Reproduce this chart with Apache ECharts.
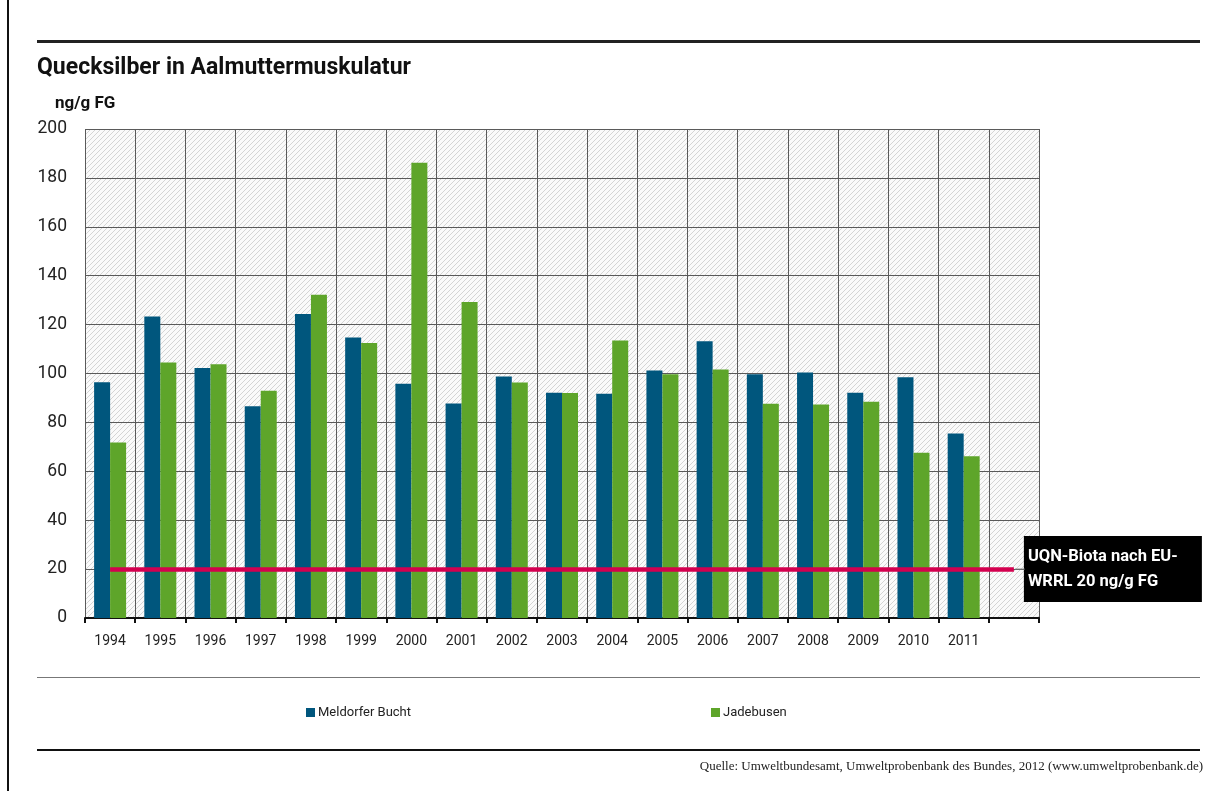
<!DOCTYPE html>
<html>
<head>
<meta charset="utf-8">
<script src="https://cdn.jsdelivr.net/npm/echarts@6/dist/echarts.min.js"></script>
<style>
  html, body { margin: 0; padding: 0; background: #fff; }
  #chart { width: 1213px; height: 791px; }
</style>
</head>
<body>
<div id="chart"></div>
<script>
// Sampling years; the last, empty slot leaves room for the limit label
const years = ['1994', '1995', '1996', '1997', '1998', '1999', '2000', '2001', '2002',
  '2003', '2004', '2005', '2006', '2007', '2008', '2009', '2010', '2011', ''];

// Mercury in eelpout muscle tissue, ng/g fresh weight
const meldorferBucht = [96.4, 123.3, 102.3, 86.6, 124.3, 114.7, 95.8, 87.7, 98.8,
  92.1, 91.7, 101.2, 113.2, 99.7, 100.4, 92.1, 98.5, 75.5, null];
const jadebusen = [71.8, 104.5, 103.8, 92.9, 132.2, 112.5, 186.2, 129.2, 96.3,
  92.0, 113.5, 99.7, 101.6, 87.6, 87.3, 88.4, 67.6, 66.2, null];

// Value axis
const yMin = 0, yMax = 200, yStep = 20;

// Environmental quality standard (biota) under the EU Water Framework Directive
const limitValue = 20;
const limitLabel = ['UQN-Biota nach EU-', 'WRRL 20 ng/g FG'];

const seriesNames = ['Meldorfer Bucht', 'Jadebusen'];
const colors = ['#00567d', '#5ea52a'];
const FONT = 'Roboto, "Noto Sans", sans-serif';

// Diagonal hatch tile for the plot background
function hatchTile() {
  const s = 5;
  const c = document.createElement('canvas');
  c.width = s; c.height = s;
  const g = c.getContext('2d');
  g.fillStyle = '#fafafa';
  g.fillRect(0, 0, s, s);
  g.strokeStyle = '#d4d4d4';
  g.lineWidth = 1;
  g.beginPath();
  g.moveTo(0, s); g.lineTo(s, 0);
  g.moveTo(-1, 1); g.lineTo(1, -1);
  g.moveTo(s - 1, s + 1); g.lineTo(s + 1, s - 1);
  g.stroke();
  return c;
}

const chart = echarts.init(document.getElementById('chart'), null, { renderer: 'canvas' });

const legendBase = {
  top: 701, icon: 'rect', itemWidth: 9, itemHeight: 9, itemGap: 4,
  textStyle: { fontFamily: FONT, fontSize: 13, color: '#222', padding: [0, 0, 0, -2] }
};

const option = {
  backgroundColor: '#fff',
  animation: false,
  textStyle: { fontFamily: FONT },
  grid: {
    left: 85, right: 174, top: 129, bottom: 173,
    show: true,
    borderWidth: 0,
    backgroundColor: { image: hatchTile(), repeat: 'repeat' }
  },
  legend: [
    Object.assign({ data: [seriesNames[0]], left: 301 }, legendBase),
    Object.assign({ data: [seriesNames[1]], left: 706 }, legendBase)
  ],
  xAxis: {
    type: 'category',
    data: years,
    boundaryGap: true,
    axisLine: { show: true, lineStyle: { color: '#111', width: 2 } },
    axisTick: { show: true, length: 5, interval: 0, lineStyle: { color: '#111', width: 2 } },
    axisLabel: { interval: 0, fontFamily: FONT, fontSize: 14, color: '#222', margin: 16 },
    splitLine: { show: true, interval: 0, lineStyle: { color: '#5a5a5a', width: 1 } }
  },
  yAxis: {
    type: 'value',
    min: yMin, max: yMax, interval: yStep,
    axisLine: { show: false },
    axisTick: { show: false },
    axisLabel: { fontFamily: FONT, fontSize: 17.5, color: '#222', margin: 18 },
    splitLine: { show: true, lineStyle: { color: '#5a5a5a', width: 1 } }
  },
  series: [
    {
      name: seriesNames[0],
      type: 'bar',
      data: meldorferBucht,
      barWidth: 16,
      barGap: '0%',
      itemStyle: { color: colors[0] }
    },
    {
      name: seriesNames[1],
      type: 'bar',
      data: jadebusen,
      barWidth: 16,
      barGap: '0%',
      itemStyle: { color: colors[1] }
    },
    {
      // Carrier for the limit line so it spans category centres, not bar offsets
      name: 'UQN',
      type: 'line',
      data: [],
      silent: true,
      markLine: {
        silent: true,
        symbol: ['none', 'none'],
        lineStyle: { color: '#d4004f', width: 4.5, type: 'solid' },
        label: {
          show: true,
          position: 'end',
          distance: 10,
          formatter: limitLabel.join('\n'),
          color: '#fff',
          backgroundColor: '#000',
          fontFamily: FONT,
          fontWeight: 'bold',
          fontSize: 16.5,
          lineHeight: 25,
          width: 156,
          padding: [8, 18, 8, 4],
          align: 'left',
          verticalAlign: 'middle'
        },
        data: [[
          { coord: [0, limitValue] },
          { coord: [years.length - 1, limitValue] }
        ]]
      }
    }
  ]
};

chart.setOption(option);

// Page furniture: rules, headings, source line and the limit-label connector
const lineEnd = chart.convertToPixel({ gridIndex: 0 }, [years.length - 1, limitValue]);
chart.setOption({
  graphic: [
    { type: 'rect', shape: { x: 7, y: 0, width: 2, height: 791 }, style: { fill: '#111' } },
    { type: 'rect', shape: { x: 37, y: 40, width: 1163, height: 3 }, style: { fill: '#222' } },
    { type: 'rect', shape: { x: 37, y: 677, width: 1163, height: 1 }, style: { fill: '#777' } },
    { type: 'rect', shape: { x: 37, y: 749, width: 1163, height: 2 }, style: { fill: '#111' } },
    {
      type: 'text', left: 37, top: 57,
      style: { text: 'Quecksilber in Aalmuttermuskulatur', fill: '#111',
        font: 'bold 23px ' + FONT }
    },
    {
      type: 'text', left: 55, top: 95,
      style: { text: 'ng/g FG', fill: '#111', font: 'bold 17px ' + FONT }
    },
    {
      type: 'text', right: 10, top: 760,
      style: { text: 'Quelle: Umweltbundesamt, Umweltprobenbank des Bundes, 2012 (www.umweltprobenbank.de)',
        fill: '#222', font: '13px "Liberation Serif", "DejaVu Serif", serif' }
    },
    {
      type: 'line', z: 10,
      shape: { x1: lineEnd[0] + 1, y1: lineEnd[1], x2: lineEnd[0] + 11, y2: lineEnd[1] },
      style: { stroke: '#777', lineWidth: 1 }
    }
  ]
});
</script>
</body>
</html>
